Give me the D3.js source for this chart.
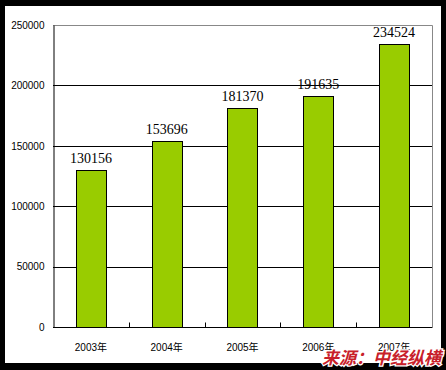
<!DOCTYPE html>
<html>
<head>
	<meta charset="utf-8">
	<script src="https://cdnjs.cloudflare.com/ajax/libs/d3/7.8.5/d3.min.js"></script>
	<style>
		body { margin: 0; background: #000; }
		svg { display: block; }
	</style>
</head>
<body>
	<svg width="446" height="370"></svg>
	<script>
		// data
		const years = ["2003年", "2004年", "2005年", "2006年", "2007年"];
		const values = [130156, 153696, 181370, 191635, 234524];
		const yTicks = [0, 50000, 100000, 150000, 200000, 250000];

		let svg = d3.select("svg");

		// white panel inside the black frame
		svg.append("rect")
			.attr("x", 5).attr("y", 6)
			.attr("width", 436).attr("height", 357)
			.attr("fill", "#fff");

		let plot = {left: 53, top: 25, right: 432, bottom: 327};

		let x = d3.scaleBand().domain(years).range([plot.left, plot.right]).padding(0),
			y = d3.scaleLinear().domain([0, 250000]).range([plot.bottom, plot.top]);

		// plot frame (grey top/right)
		svg.append("path")
			.attr("d", "M" + plot.left + "," + (plot.top + 0.5) + "H" + (plot.right + 0.5) + "V" + plot.bottom)
			.attr("fill", "none")
			.attr("stroke", "#888");

		// gridlines
		svg.append("g")
			.selectAll("line")
			.data(yTicks.slice(1, -1))
			.enter()
			.append("line")
			.attr("x1", plot.left)
			.attr("x2", plot.right)
			.attr("y1", d => Math.round(y(d)) + 0.5)
			.attr("y2", d => Math.round(y(d)) + 0.5)
			.attr("stroke", "#000");

		// bars
		let bw = x.bandwidth() * 0.4;
		svg.append("g")
			.selectAll("rect")
			.data(values)
			.enter()
			.append("rect")
			.attr("x", (d, i) => Math.round(x(years[i]) + (x.bandwidth() - bw) / 2) + 0.5)
			.attr("y", d => Math.round(y(d)) + 0.5)
			.attr("width", Math.round(bw))
			.attr("height", d => Math.round(y(0)) - Math.round(y(d)))
			.attr("fill", "#99cc00")
			.attr("stroke", "#000");

		// value labels
		svg.append("g")
			.selectAll("text")
			.data(values)
			.enter()
			.append("text")
			.attr("x", (d, i) => x(years[i]) + x.bandwidth() / 2)
			.attr("y", d => y(d) - 7)
			.attr("text-anchor", "middle")
			.style("font", "14px 'Liberation Serif', serif")
			.text(d => d);

		// y axis
		svg.append("g")
			.attr("transform", "translate(" + (plot.left + 0.5) + ",0)")
			.call(d3.axisLeft(y).tickValues(yTicks).tickSize(0).tickPadding(9).tickFormat(d3.format("d")))
			.call(g => g.select(".domain").attr("stroke", "#000"))
			.call(g => g.selectAll("text").style("font", "10px 'Liberation Sans', sans-serif").attr("fill", "#000"));

		// x axis
		let xAxis = svg.append("g")
			.attr("transform", "translate(0," + (plot.bottom + 0.5) + ")");
		xAxis.append("line")
			.attr("x1", plot.left).attr("x2", plot.right + 0.5)
			.attr("stroke", "#000");
		xAxis.selectAll(".tick")
			.data(years.slice(1))
			.enter()
			.append("line")
			.attr("x1", d => Math.round(x(d)) + 0.5)
			.attr("x2", d => Math.round(x(d)) + 0.5)
			.attr("y1", 0).attr("y2", -5)
			.attr("stroke", "#000");
		xAxis.selectAll("text")
			.data(years)
			.enter()
			.append("text")
			.attr("x", d => x(d) + x.bandwidth() / 2)
			.attr("y", 23)
			.attr("text-anchor", "middle")
			.style("font", "10px 'Liberation Sans', 'Noto Sans CJK SC', sans-serif")
			.text(d => d);

		// source
		svg.append("text")
			.attr("x", 441)
			.attr("y", 364)
			.attr("text-anchor", "end")
			.style("font", "bold italic 17px 'Noto Sans CJK SC', sans-serif")
			.attr("fill", "#c8202a")
			.attr("stroke", "#fff")
			.attr("stroke-width", 2.5)
			.attr("paint-order", "stroke")
			.text("来源：中经纵横");
	</script>
</body>
</html>
